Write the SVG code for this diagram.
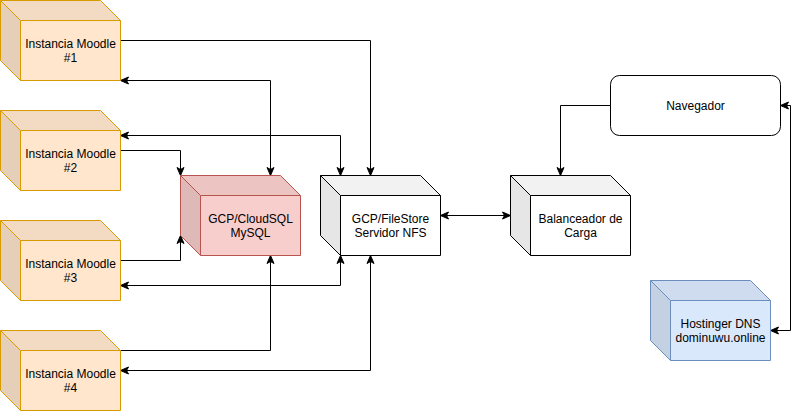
<svg xmlns="http://www.w3.org/2000/svg" width="800" height="411" viewBox="0 0 800 411">
<style>
.t{font-family:"Liberation Sans",Arial,sans-serif;font-size:12px;fill:#000;text-anchor:middle}
.c{fill:none;stroke:#000;stroke-width:1}
.mo .f{fill:#ffe6cc}.mo .tp{fill:#f2dbc2}.mo .sd{fill:#e6cfb8}.mo .o{fill:none;stroke:#d79b00}
.sq .f{fill:#f8cecc}.sq .tp{fill:#ecc4c2}.sq .sd{fill:#dfb9b8}.sq .o{fill:none;stroke:#b85450}
.wh .f{fill:#fff}.wh .tp{fill:#f2f2f2}.wh .sd{fill:#e6e6e6}.wh .o{fill:none;stroke:#000}
.dn .f{fill:#dae8fc}.dn .tp{fill:#cfdcef}.dn .sd{fill:#c4d1e3}.dn .o{fill:none;stroke:#6c8ebf}
</style>
<defs>
<marker id="a" viewBox="-1 -5 10 10" refX="8" refY="0" markerWidth="10" markerHeight="10" markerUnits="userSpaceOnUse" orient="auto-start-reverse">
<path d="M0,-3.5 L8,0 L0,3.5 L2,0 Z" fill="#000" stroke="#000" stroke-width="1"/>
</marker>
</defs>
<g transform="translate(0.5,0.5)">
<g id="connectors">
<path class="c" d="M120,40 L370,40 L370,175" marker-end="url(#a)"/>
<path class="c" d="M120,80 L270,80 L270,175" marker-start="url(#a)" marker-end="url(#a)"/>
<path class="c" d="M120,135 L340,135 L340,175" marker-start="url(#a)" marker-end="url(#a)"/>
<path class="c" d="M120,150 L180,150 L180,175" marker-end="url(#a)"/>
<path class="c" d="M120,260 L180,260 L180,235" marker-end="url(#a)"/>
<path class="c" d="M120,285 L340,285 L340,255" marker-start="url(#a)" marker-end="url(#a)"/>
<path class="c" d="M120,350 L270,350 L270,255" marker-end="url(#a)"/>
<path class="c" d="M120,370 L370,370 L370,255" marker-start="url(#a)" marker-end="url(#a)"/>
<path class="c" d="M440,215 L510,215" marker-start="url(#a)" marker-end="url(#a)"/>
<path class="c" d="M610,105 L560,105 L560,175" marker-end="url(#a)"/>
<path class="c" d="M780,105 L790,105 L790,330 L770,330" marker-start="url(#a)" marker-end="url(#a)"/>
</g>
<g id="moodle1" class="mo"><g transform="translate(0,0)"><rect class="f" x="20" y="20" width="100" height="60"/><polygon class="tp" points="0,0 100,0 120,20 20,20"/><polygon class="sd" points="0,0 20,20 20,80 0,60"/><path class="o" d="M0,0 L100,0 L120,20 L120,80 L20,80 L0,60 Z M0,0 L20,20 L120,20 M20,20 L20,80"/></g><text class="t" x="70" y="47">Instancia Moodle</text><text class="t" x="70" y="61">#1</text></g>
<g id="moodle2" class="mo"><g transform="translate(0,110)"><rect class="f" x="20" y="20" width="100" height="60"/><polygon class="tp" points="0,0 100,0 120,20 20,20"/><polygon class="sd" points="0,0 20,20 20,80 0,60"/><path class="o" d="M0,0 L100,0 L120,20 L120,80 L20,80 L0,60 Z M0,0 L20,20 L120,20 M20,20 L20,80"/></g><text class="t" x="70" y="157">Instancia Moodle</text><text class="t" x="70" y="171">#2</text></g>
<g id="moodle3" class="mo"><g transform="translate(0,220)"><rect class="f" x="20" y="20" width="100" height="60"/><polygon class="tp" points="0,0 100,0 120,20 20,20"/><polygon class="sd" points="0,0 20,20 20,80 0,60"/><path class="o" d="M0,0 L100,0 L120,20 L120,80 L20,80 L0,60 Z M0,0 L20,20 L120,20 M20,20 L20,80"/></g><text class="t" x="70" y="267">Instancia Moodle</text><text class="t" x="70" y="281">#3</text></g>
<g id="moodle4" class="mo"><g transform="translate(0,330)"><rect class="f" x="20" y="20" width="100" height="60"/><polygon class="tp" points="0,0 100,0 120,20 20,20"/><polygon class="sd" points="0,0 20,20 20,80 0,60"/><path class="o" d="M0,0 L100,0 L120,20 L120,80 L20,80 L0,60 Z M0,0 L20,20 L120,20 M20,20 L20,80"/></g><text class="t" x="70" y="377">Instancia Moodle</text><text class="t" x="70" y="391">#4</text></g>
<g id="cloudsql" class="sq"><g transform="translate(180,175)"><rect class="f" x="20" y="20" width="100" height="60"/><polygon class="tp" points="0,0 100,0 120,20 20,20"/><polygon class="sd" points="0,0 20,20 20,80 0,60"/><path class="o" d="M0,0 L100,0 L120,20 L120,80 L20,80 L0,60 Z M0,0 L20,20 L120,20 M20,20 L20,80"/></g><text class="t" x="250" y="222">GCP/CloudSQL</text><text class="t" x="250" y="236">MySQL</text></g>
<g id="filestore" class="wh"><g transform="translate(320,175)"><rect class="f" x="20" y="20" width="100" height="60"/><polygon class="tp" points="0,0 100,0 120,20 20,20"/><polygon class="sd" points="0,0 20,20 20,80 0,60"/><path class="o" d="M0,0 L100,0 L120,20 L120,80 L20,80 L0,60 Z M0,0 L20,20 L120,20 M20,20 L20,80"/></g><text class="t" x="390" y="222">GCP/FileStore</text><text class="t" x="390" y="236">Servidor NFS</text></g>
<g id="balanceador" class="wh"><g transform="translate(510,175)"><rect class="f" x="20" y="20" width="100" height="60"/><polygon class="tp" points="0,0 100,0 120,20 20,20"/><polygon class="sd" points="0,0 20,20 20,80 0,60"/><path class="o" d="M0,0 L100,0 L120,20 L120,80 L20,80 L0,60 Z M0,0 L20,20 L120,20 M20,20 L20,80"/></g><text class="t" x="580" y="222">Balanceador de</text><text class="t" x="580" y="236">Carga</text></g>
<g id="navegador"><rect x="610" y="75" width="170" height="60" rx="9" ry="9" fill="#fff" stroke="#000"/><text class="t" x="695" y="109">Navegador</text></g>
<g id="hostinger" class="dn"><g transform="translate(650,280)"><rect class="f" x="20" y="20" width="100" height="60"/><polygon class="tp" points="0,0 100,0 120,20 20,20"/><polygon class="sd" points="0,0 20,20 20,80 0,60"/><path class="o" d="M0,0 L100,0 L120,20 L120,80 L20,80 L0,60 Z M0,0 L20,20 L120,20 M20,20 L20,80"/></g><text class="t" x="720" y="327">Hostinger DNS</text><text class="t" x="720" y="341">dominuwu.online</text></g>
</g>
</svg>
